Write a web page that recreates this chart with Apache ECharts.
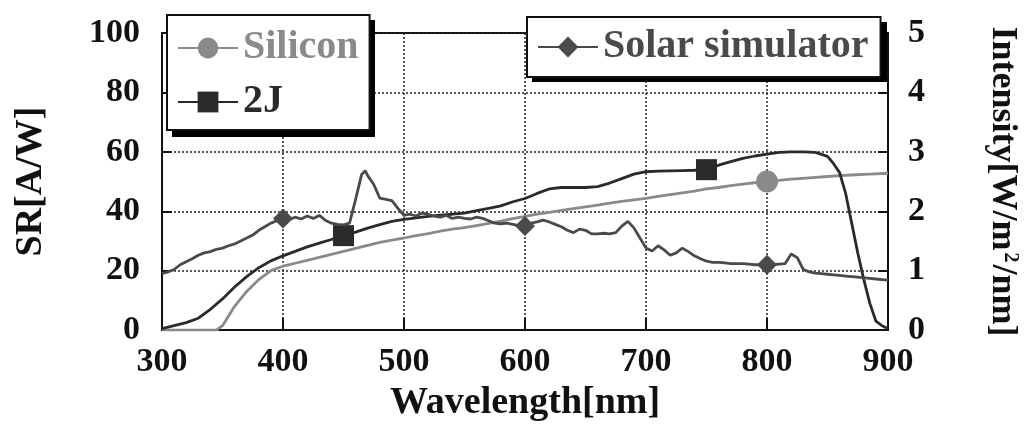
<!DOCTYPE html>
<html>
<head>
<meta charset="utf-8">
<script src="https://cdn.jsdelivr.net/npm/echarts@6/dist/echarts.min.js"></script>
<style>
  html, body { margin: 0; padding: 0; background: #fff; }
  #chart { width: 1035px; height: 427px; }
</style>
</head>
<body>
<div id="chart"></div>
<script>
// Silicon reference cell, spectral response [A/W]
const siliconWl = [300, 310, 320, 330, 340, 345, 350, 360, 370, 380, 390, 400, 410, 420, 430, 440, 450, 460, 470, 480, 490,
    500, 510, 520, 530, 540, 550, 560, 570, 580, 590, 600, 610, 620, 630, 640, 650, 660, 670, 680, 690,
    700, 710, 720, 730, 740, 750, 760, 770, 780, 790, 800, 810, 820, 830, 840, 850, 860, 870, 880, 890, 900]
const siliconSR = [0, 0, 0, 0, 0, 0, 1.5, 8, 13, 17, 20, 21.5, 22.5, 23.5, 24.5, 25.5, 26.5, 27.5, 28.5, 29.5, 30.3,
    31, 31.8, 32.5, 33.3, 34, 34.5, 35.2, 35.9, 36.7, 37.5, 38.3, 39, 39.6, 40.3, 40.9, 41.5, 42.1, 42.7, 43.3, 43.8,
    44.3, 45, 45.6, 46.2, 46.8, 47.5, 48, 48.6, 49.1, 49.6, 50, 50.4, 50.8, 51.1, 51.4, 51.7, 52, 52.2, 52.4, 52.6, 52.8]
const siliconMarks = [800]

// 2J cell, spectral response [A/W]
const tjWl = [300, 310, 320, 330, 340, 350, 360, 370, 380, 390, 400, 410, 420, 430, 440, 450, 460, 470, 480, 490,
    500, 510, 520, 530, 540, 550, 560, 570, 580, 590, 600, 610, 620, 630, 640, 650, 660, 670, 680, 690,
    700, 710, 720, 730, 740, 750, 760, 770, 780, 790, 800, 810, 820, 830, 840, 850, 855, 860, 865, 870,
    875, 880, 885, 890, 895, 900]
const tjSR = [0.5, 1.5, 2.5, 4, 7, 10.5, 14.5, 18, 21, 23.3, 25, 26.5, 28, 29.3, 30.5, 31.8, 33, 34.3, 35.5, 36.6,
    37.3, 37.8, 38.3, 38.7, 39, 39.4, 40.2, 41, 41.8, 43.2, 44.3, 46, 47.5, 48, 48, 48, 48.3, 49.5, 51, 52.5,
    53.3, 53.5, 53.6, 53.7, 53.8, 54, 55.5, 56.7, 57.8, 58.6, 59.2, 59.8, 60, 60, 59.8, 58.5, 56, 53, 46, 36,
    26, 17, 9, 3, 1.5, 0.5]
const tjMarks = [450, 750]

// Solar simulator, intensity [W/m2/nm]
const simWl = [300, 305, 310, 315, 320, 325, 330, 335, 340, 345, 350, 355, 360, 365, 370, 375, 380, 385, 390, 395,
    400, 405, 410, 415, 420, 425, 430, 435, 440, 445, 450, 455, 460, 465, 468, 470, 475, 480, 485, 490, 495,
    500, 505, 510, 515, 520, 525, 530, 535, 540, 545, 550, 555, 560, 565, 570, 575, 580, 585, 590, 595,
    600, 605, 610, 615, 620, 625, 630, 635, 640, 645, 650, 655, 660, 665, 670, 675, 680, 685, 690, 695,
    700, 705, 710, 715, 720, 725, 730, 735, 740, 745, 750, 755, 760, 765, 770, 775, 780, 785, 790, 795,
    800, 805, 810, 815, 820, 825, 830, 835, 840, 845, 850, 855, 860, 865, 870, 875, 880, 885, 890, 895, 900]
const simInt = [0.95, 0.98, 1.02, 1.1, 1.15, 1.2, 1.26, 1.3, 1.32, 1.36, 1.38, 1.42, 1.45, 1.5, 1.55, 1.6, 1.68, 1.74, 1.8, 1.84,
    1.88, 1.86, 1.9, 1.87, 1.92, 1.88, 1.93, 1.85, 1.8, 1.78, 1.77, 1.8, 2.2, 2.62, 2.68, 2.6, 2.45, 2.22, 2.2, 2.18, 2.05,
    1.93, 1.95, 1.92, 1.97, 1.95, 1.92, 1.9, 1.93, 1.88, 1.9, 1.88, 1.87, 1.9, 1.88, 1.84, 1.8, 1.79, 1.8, 1.78, 1.76,
    1.75, 1.8, 1.82, 1.85, 1.82, 1.78, 1.74, 1.68, 1.64, 1.7, 1.68, 1.62, 1.62, 1.63, 1.62, 1.64, 1.75, 1.83, 1.72, 1.55,
    1.38, 1.33, 1.42, 1.35, 1.26, 1.3, 1.38, 1.32, 1.25, 1.2, 1.16, 1.14, 1.14, 1.13, 1.12, 1.12, 1.12, 1.11, 1.1, 1.1,
    1.1, 1.1, 1.11, 1.12, 1.28, 1.22, 1.02, 0.98, 0.96, 0.95, 0.94, 0.93, 0.92, 0.91, 0.9, 0.89, 0.88, 0.87, 0.86, 0.85, 0.84]
const simMarks = [400, 600, 800]

const xTicks = [300, 400, 500, 600, 700, 800, 900]

const FONT = '"Liberation Serif", "Times New Roman", serif'

// only the marked wavelengths get a symbol, the rest is a plain line
const toData = (xs, ys, marks) => xs.map((x, i) => marks.includes(x)
    ? { value: [x, ys[i]] }
    : { value: [x, ys[i]], symbol: 'none' })

const chart = echarts.init(document.getElementById('chart'))

const labelStyle = {
    fontFamily: FONT,
    fontWeight: 'bold',
    fontSize: 34,
    color: '#111'
}

const legendBox = {
    backgroundColor: '#fff',
    borderColor: '#111',
    borderWidth: 2,
    itemWidth: 60,
    itemHeight: 26,
    textStyle: { fontFamily: FONT, fontWeight: 'bold', fontSize: 40 }
}

const option = {
    animation: false,
    backgroundColor: '#fff',
    grid: {
        left: 162,
        right: 147,
        top: 33,
        bottom: 94,
        show: true,
        borderColor: '#111',
        borderWidth: 2
    },
    // black drop shadows behind the two legend boxes
    graphic: [
        { type: 'rect', z: 3, shape: { x: 172, y: 20, width: 203, height: 117 }, style: { fill: '#000' } },
        { type: 'rect', z: 3, shape: { x: 532, y: 22, width: 355, height: 60 }, style: { fill: '#000' } }
    ],
    legend: [
        Object.assign({
            orient: 'vertical',
            left: 167,
            top: 15,
            padding: [13, 11, 8, 10],
            itemGap: 14,
            data: [
                { name: 'Silicon', textStyle: { color: '#8a8a8a' } },
                { name: '2J', textStyle: { color: '#2a2a2a' } }
            ]
        }, legendBox),
        Object.assign({
            left: 527,
            top: 17,
            padding: [10, 12, 10, 10],
            data: [
                { name: 'Solar simulator', textStyle: { color: '#4a4a4a' } }
            ]
        }, legendBox)
    ],
    xAxis: {
        type: 'value',
        min: 300,
        max: 900,
        interval: 100,
        name: 'Wavelength[nm]',
        nameLocation: 'middle',
        nameGap: 53,
        nameTextStyle: { fontFamily: FONT, fontWeight: 'bold', fontSize: 38, color: '#111' },
        axisLine: { lineStyle: { color: '#111', width: 2 } },
        axisTick: { inside: true, length: 12, lineStyle: { color: '#111', width: 2 } },
        axisLabel: Object.assign({ margin: 15 }, labelStyle),
        splitLine: { show: true, lineStyle: { color: '#222', width: 1.5, type: [2, 2] } }
    },
    yAxis: [
        {
            type: 'value',
            min: 0,
            max: 100,
            interval: 20,
            name: 'SR[A/W]',
            nameLocation: 'middle',
            nameGap: 112,
            nameTextStyle: { fontFamily: FONT, fontWeight: 'bold', fontSize: 38, color: '#111' },
            axisLine: { show: true, lineStyle: { color: '#111', width: 2 } },
            axisTick: { show: true, inside: true, length: 10, lineStyle: { color: '#111', width: 2 } },
            axisLabel: Object.assign({ margin: 22, padding: [0, 0, 10, 0] }, labelStyle),
            splitLine: { show: true, lineStyle: { color: '#222', width: 1.5, type: [2, 2] } }
        },
        {
            type: 'value',
            min: 0,
            max: 5,
            interval: 1,
            position: 'right',
            name: 'Intensity[W/m{sup|2}/nm]',
            nameLocation: 'middle',
            nameGap: 96,
            nameRotate: -90,
            nameTextStyle: {
                fontFamily: FONT, fontWeight: 'bold', fontSize: 36, color: '#111',
                rich: {
                    sup: { fontFamily: FONT, fontWeight: 'bold', fontSize: 20, color: '#111', verticalAlign: 'top', padding: [0, 2, 14, 2] }
                }
            },
            axisLine: { show: true, lineStyle: { color: '#111', width: 2 } },
            axisTick: { show: true, inside: true, length: 10, lineStyle: { color: '#111', width: 2 } },
            axisLabel: Object.assign({ margin: 20, padding: [0, 0, 10, 0] }, labelStyle),
            splitLine: { show: false }
        }
    ],
    series: [
        {
            name: 'Silicon',
            type: 'line',
            yAxisIndex: 0,
            symbol: 'circle',
            symbolSize: 22,
            showAllSymbol: true,
            color: '#8a8a8a',
            lineStyle: { width: 2.8, color: '#8a8a8a' },
            data: toData(siliconWl, siliconSR, siliconMarks),
            z: 2
        },
        {
            name: '2J',
            type: 'line',
            yAxisIndex: 0,
            symbol: 'rect',
            symbolSize: 21,
            showAllSymbol: true,
            color: '#2a2a2a',
            lineStyle: { width: 2.8, color: '#2a2a2a' },
            data: toData(tjWl, tjSR, tjMarks),
            z: 3
        },
        {
            name: 'Solar simulator',
            type: 'line',
            yAxisIndex: 1,
            symbol: 'diamond',
            symbolSize: 20,
            showAllSymbol: true,
            color: '#4a4a4a',
            lineStyle: { width: 2.8, color: '#4a4a4a' },
            data: toData(simWl, simInt, simMarks),
            z: 4
        }
    ]
}

chart.setOption(option)
</script>
</body>
</html>
